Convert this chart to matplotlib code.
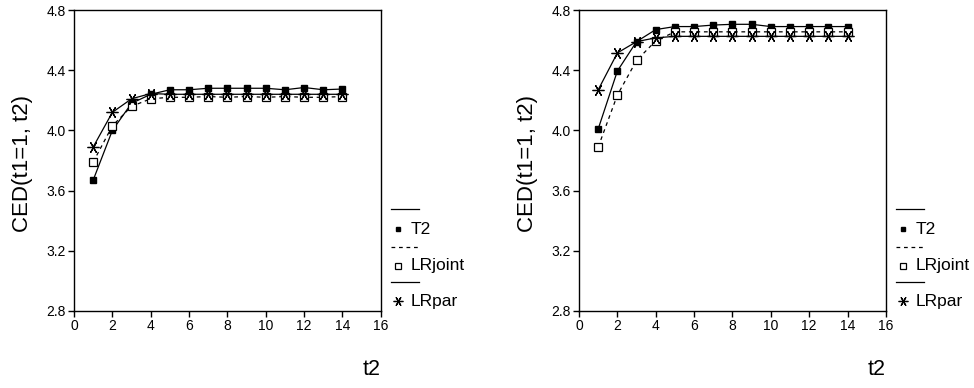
import matplotlib.pyplot as plt
from matplotlib.lines import Line2D

plt.rcParams['font.family'] = ['Liberation Sans', 'DejaVu Sans']

t2 = list(range(1, 15))

# left panel
t2_left = [3.67, 4.00, 4.18, 4.24, 4.27, 4.27, 4.28, 4.28, 4.28, 4.28, 4.27, 4.285, 4.27, 4.275]
lrjoint_left = [3.79, 4.03, 4.16, 4.21, 4.22, 4.22, 4.225, 4.22, 4.225, 4.22, 4.225, 4.22, 4.22, 4.225]
lrpar_left = [3.89, 4.12, 4.21, 4.245, 4.24, 4.24, 4.24, 4.24, 4.24, 4.24, 4.24, 4.24, 4.24, 4.24]

# right panel
t2_right = [4.01, 4.395, 4.59, 4.67, 4.69, 4.69, 4.70, 4.705, 4.705, 4.69, 4.69, 4.69, 4.69, 4.69]
lrjoint_right = [3.89, 4.235, 4.465, 4.595, 4.655, 4.655, 4.655, 4.655, 4.655, 4.655, 4.655, 4.655, 4.655, 4.655]
lrpar_right = [4.27, 4.515, 4.59, 4.615, 4.625, 4.625, 4.625, 4.625, 4.625, 4.625, 4.625, 4.625, 4.625, 4.625]

series_names = ["T2", "LRjoint", "LRpar"]
y_ticks = [2.8, 3.2, 3.6, 4.0, 4.4, 4.8]
x_ticks = list(range(0, 17, 2))

star = (6, 2, 90)
styles = [
    dict(ls='-', marker='s', ms=4.5, mfc='black', mec='black'),
    dict(ls=(0, (3, 3)), marker='s', ms=6, mfc='white', mec='black', mew=0.9),
    dict(ls='-', marker=star, ms=8.5, mfc='none', mec='black', mew=0.9),
]
legend_ms = [3.5, 5, 7]

fig = plt.figure(figsize=(9.74, 3.88), dpi=100)
ax_l = fig.add_axes([0.076, 0.1985, 0.315, 0.7757])
ax_r = fig.add_axes([0.5945, 0.1985, 0.315, 0.7757])

for ax, data in [(ax_l, [t2_left, lrjoint_left, lrpar_left]),
                 (ax_r, [t2_right, lrjoint_right, lrpar_right])]:
    for vals, st in zip(data, styles):
        ax.plot(t2, vals, color='black', lw=0.9, **st)

    ax.set_xlim(0, 16)
    ax.set_ylim(2.8, 4.8)
    ax.set_xticks(x_ticks)
    ax.set_yticks(y_ticks)
    ax.set_yticklabels([f"{v:.1f}" for v in y_ticks])
    ax.tick_params(direction='out', length=4, width=1, labelsize=10, pad=2,
                   top=False, right=False)
    for sp in ax.spines.values():
        sp.set_linewidth(1)

    ax.set_ylabel("CED(t1=1, t2)", fontsize=16, va='center')
    ax.yaxis.set_label_coords(-0.169, 0.49)
    ax.set_xlabel("t2", fontsize=15.5, ha='right', va='center')
    ax.xaxis.set_label_coords(1.0, -0.196)

    # legend: line sample on one row, marker + name on the next
    rows = [(0.339, 0.272), (0.213, 0.150), (0.096, 0.033)]
    for (y_line, y_item), st, ms, name in zip(rows, styles, legend_ms, series_names):
        ax.add_line(Line2D([1.033, 1.124], [y_line, y_line], transform=ax.transAxes,
                           color='black', lw=0.9, ls=st['ls'], clip_on=False))
        mk = {k: v for k, v in st.items() if k not in ('ls', 'ms')}
        ax.add_line(Line2D([1.055], [y_item], transform=ax.transAxes, ls='none',
                           color='black', ms=ms, clip_on=False, **mk))
        ax.text(1.098, y_item, name, transform=ax.transAxes, fontsize=12.5,
                va='center', ha='left')

fig.savefig("out.png", dpi=100)
